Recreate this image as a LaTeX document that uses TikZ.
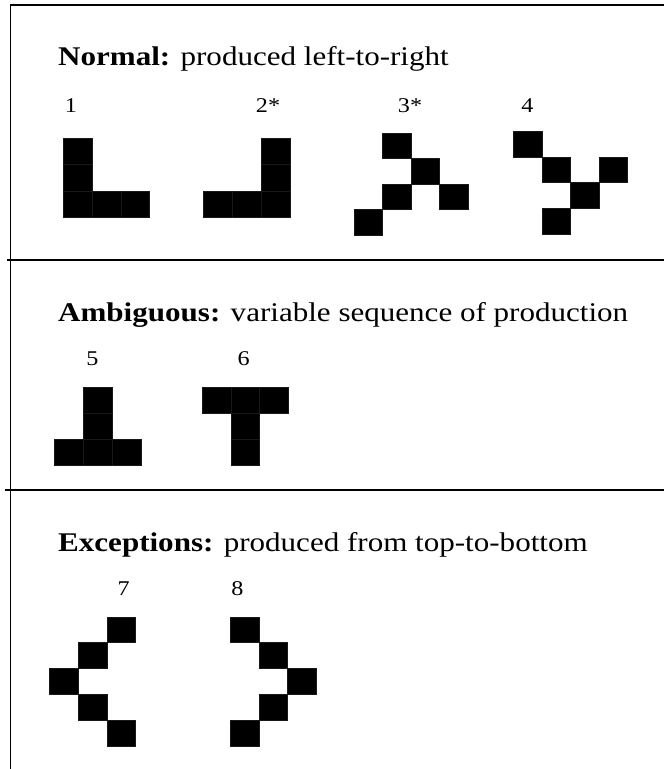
\documentclass[tikz,border=0pt]{standalone}
\usepackage{fontspec}
\setmainfont{Liberation Serif}[FakeStretch=1.15]
\tikzset{
  cellsq/.style={fill=black, draw=black!90, line width=0.25pt},
  frameline/.style={line width=1.8pt, line cap=butt},
  heading/.style={anchor=base west, inner sep=0pt, font=\fontsize{27}{32}\selectfont},
  numlabel/.style={anchor=base, inner sep=0pt, font=\fontsize{21}{25}\selectfont}
}
\newcommand\tilecells[5]{%
  \foreach \c/\r in {#5} {\draw[cellsq] ({#1+\c*#3},{#2+\r*#4}) rectangle ++(#3,#4);}}
\begin{document}
\begin{tikzpicture}[x=1pt,y=-1pt]
\useasboundingbox (0,0) rectangle (664,769);
% frame
\draw[frameline] (10.5,769) -- (10.5,5) -- (664,5);
\draw[frameline] (7,260) -- (664,260);
\draw[frameline] (5,490) -- (664,490);
% headings
\node[heading] (hnormal) at (58,65) {\textbf{Normal:} produced left-to-right};
\node[heading] (hamb) at (58,321.7) {\textbf{Ambiguous:} variable sequence of production};
\node[heading] (hexc) at (58,551.7) {\textbf{Exceptions:} produced from top-to-bottom};
% number labels
\node[numlabel] (l1) at (71,112) {1};
\node[numlabel] (l2) at (268,112) {2*};
\node[numlabel] (l3) at (410,112) {3*};
\node[numlabel] (l4) at (527.5,112) {4};
\node[numlabel] (l5) at (92.4,365) {5};
\node[numlabel] (l6) at (243.6,365) {6};
\node[numlabel] (l7) at (123.7,595) {7};
\node[numlabel] (l8) at (237.3,595) {8};
% tiles
\tilecells{63.3}{138.3}{28.7}{26.3}{0/0,0/1,0/2,1/2,2/2}
\tilecells{203.3}{138.3}{28.9}{26.3}{2/0,2/1,0/2,1/2,2/2}
\tilecells{354}{132.7}{28.5}{25.6}{1/0,2/1,1/2,3/2,0/3}
\tilecells{513.3}{131}{28.5}{25.8}{0/0,1/1,3/1,2/2,1/3}
\tilecells{53.8}{386.7}{29}{26.1}{1/0,1/1,0/2,1/2,2/2}
\tilecells{202}{386.7}{28.8}{26.1}{0/0,1/0,2/0,1/1,1/2}
\tilecells{49.5}{616.7}{28.7}{25.8}{2/0,1/1,0/2,1/3,2/4}
\tilecells{230}{616.7}{28.7}{25.8}{0/0,1/1,2/2,1/3,0/4}
\end{tikzpicture}
\end{document}
